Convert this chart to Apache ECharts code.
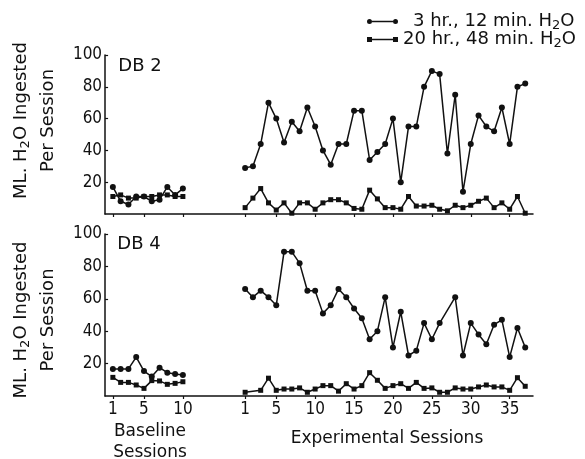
<!DOCTYPE html>
<html>
<head>
<meta charset="utf-8">
<script src="https://cdn.jsdelivr.net/npm/echarts@6/dist/echarts.min.js"></script>
<style>
  html, body { margin: 0; padding: 0; background: #fff; }
  #chart { width: 585px; height: 459px; }
</style>
</head>
<body>
<div id="chart"></div>
<script>
// sessions
const baselineSessions = [1, 2, 3, 4, 5, 6, 7, 8, 9, 10]
const expSessions = Array.from({ length: 37 }, (_, i) => i + 1)

// tick labels
const baselineTicks = [1, 5, 10]
const expTicks = [1, 5, 10, 15, 20, 25, 30, 35]
const yTicks = [20, 40, 60, 80, 100]

// DB 2
const db2Base3hr = [17, 8, 6, 11, 11, 8, 9, 17, 12, 16]
const db2Base20hr = [11, 12, 10, 10, 11, 11, 12, 12, 11, 11]
const db2Exp3hr = [29, 30, 44, 70, 60, 45, 58, 52, 67, 55, 40, 31, 44, 44, 65, 65, 34, 39, 44, 60,
  20, 55, 55, 80, 90, 88, 38, 75, 14, 44, 62, 55, 52, 67, 44, 80, 82]
const db2Exp20hr = [4, 10, 16, 7, 2.5, 7, 0.5, 7, 7, 3, 7, 9, 9, 7, 3.5, 3, 15, 9.5, 4, 4,
  3, 11, 5, 5, 5.5, 3, 2, 5.5, 4, 5.5, 8, 10, 4, 7, 3, 11, 0.5]

// DB 4
const db4Base3hr = [16.7, 16.7, 16.7, 24, 15.4, 12, 17.5, 14.4, 13.6, 13]
const db4Base20hr = [11.5, 8.4, 8.4, 6.8, 4.7, 9.5, 9.3, 7.2, 7.8, 8.8]
const db4Exp3hr = [66, 61, 65, 61, 56, 89, 89, 82, 65, 65, 51, 56, 66, 61, 54, 48, 35, 40, 61, 30,
  52, 25, 28, 45, 35, 45, null, 61, 25, 45, 38, 32, 44, 47, 24, 42, 30]
const db4Exp20hr = [2.3, null, 3.5, 11, 3.5, 4.3, 4.3, 5, 2.3, 4.3, 6.4, 6.4, 3, 7.6, 4.3, 6.4, 14.4, 9.7, 4.7, 6.4,
  7.6, 4.7, 8.4, 4.7, 5, 2.3, 2.3, 5, 4.3, 4.3, 5.6, 6.8, 5.6, 5.6, 3.5, 11.3, 6]

const NAME_A = '3 hr., 12 min. H2O'
const NAME_B = '20 hr., 48 min. H2O'

// experimental sessions sit after a gap on the same axis
const EXP_OFFSET = 17
const basePos = baselineSessions
const expPos = expSessions.map((s) => s + EXP_OFFSET)
const tickPos = baselineTicks.concat(expTicks.map((s) => s + EXP_OFFSET))

const FONT = 'DejaVu Sans'
const NUM_FONT = '"DejaVu Sans Condensed", "DejaVu Sans"'
const INK = '#111'

const chart = echarts.init(document.getElementById('chart'))

function line(name, pos, vals, symbol, idx) {
  return {
    type: 'line',
    name,
    xAxisIndex: idx,
    yAxisIndex: idx,
    data: pos.map((p, i) => [p, vals[i]]),
    symbol,
    symbolSize: symbol === 'circle' ? 6 : 5,
    connectNulls: true,
    clip: false,
    lineStyle: { color: INK, width: 1.5 },
    itemStyle: { color: INK },
  }
}

function xAxis(idx, showLabels) {
  return {
    type: 'value',
    gridIndex: idx,
    min: 0,
    max: 55,
    axisLine: { lineStyle: { color: INK, width: 1.5 } },
    axisTick: { customValues: tickPos, length: 3, lineStyle: { color: INK, width: 1.2 } },
    axisLabel: {
      show: showLabels,
      customValues: tickPos,
      formatter: (v) => (v > 10 ? v - EXP_OFFSET : v),
      fontFamily: NUM_FONT,
      fontSize: 17,
      color: INK,
      margin: 5,
    },
    splitLine: { show: false },
  }
}

function yAxis(idx, shift) {
  return {
    type: 'value',
    gridIndex: idx,
    min: 0,
    max: 100,
    interval: 20,
    name: 'ML. H{sub|2}O Ingested\nPer Session',
    nameLocation: 'middle',
    nameGap: 35,
    nameRotate: 90,
    nameTextStyle: {
      fontFamily: FONT,
      fontSize: 18,
      color: INK,
      lineHeight: 27,
      padding: shift,
      rich: {
        sub: { fontFamily: FONT, fontSize: 13, color: INK, lineHeight: 15, padding: [8, 0, 0, 0] },
      },
    },
    axisLine: { show: true, lineStyle: { color: INK, width: 1.5 } },
    axisTick: { customValues: yTicks, length: 3, inside: true, lineStyle: { color: INK, width: 1.2 } },
    axisLabel: { customValues: yTicks, fontFamily: NUM_FONT, fontSize: 17, color: INK, margin: 3 },
    splitLine: { show: false },
  }
}

const legendRich = {
  sub: { fontFamily: FONT, fontSize: 13, color: INK, lineHeight: 14, padding: [8, 0, 0, 0] },
}
const legendLabel = (n) => n.replace('H2O', 'H{sub|2}O')

function legend(name, top, icon, padLeft) {
  return {
    data: [name],
    left: 367,
    top,
    padding: 0,
    itemWidth: 31,
    itemHeight: 5,
    icon,
    formatter: legendLabel,
    textStyle: { fontFamily: FONT, fontSize: 18, color: INK, padding: [0, 0, 0, padLeft], rich: legendRich },
  }
}

const option = {
  animation: false,
  backgroundColor: '#fff',
  grid: [
    { left: 97, top: 55, width: 436, height: 159 },
    { left: 97, top: 234, width: 436, height: 162 },
  ],
  legend: [
    legend(NAME_A, 11,
      'path://M5,1.75H26V3.25H5Z M0,2.5A2.5,2.5,0,1,1,5,2.5A2.5,2.5,0,1,1,0,2.5Z M26,2.5A2.5,2.5,0,1,1,31,2.5A2.5,2.5,0,1,1,26,2.5Z', 10),
    legend(NAME_B, 29, 'path://M5,1.75H26V3.25H5Z M0,0H5V5H0Z M26,0H31V5H26Z', 0),
  ],
  xAxis: [xAxis(0, false), xAxis(1, true)],
  yAxis: [yAxis(0, [0, 0, 0, 28]), yAxis(1, [0, 10, 0, 0])],
  graphic: [
    { type: 'text', x: 140, y: 66, style: { text: 'DB 2', font: '18px "DejaVu Sans"', fill: INK, textAlign: 'center', textVerticalAlign: 'middle' } },
    { type: 'text', x: 139, y: 244, style: { text: 'DB 4', font: '18px "DejaVu Sans"', fill: INK, textAlign: 'center', textVerticalAlign: 'middle' } },
    { type: 'text', x: 150, y: 442, style: { text: 'Baseline\nSessions', font: '17px "DejaVu Sans"', lineHeight: 21, fill: INK, textAlign: 'center', textVerticalAlign: 'middle' } },
    { type: 'text', x: 387, y: 439, style: { text: 'Experimental Sessions', font: '17px "DejaVu Sans"', fill: INK, textAlign: 'center', textVerticalAlign: 'middle' } },
  ],
  series: [
    line(NAME_A, basePos, db2Base3hr, 'circle', 0),
    line(NAME_B, basePos, db2Base20hr, 'rect', 0),
    line(NAME_A, expPos, db2Exp3hr, 'circle', 0),
    line(NAME_B, expPos, db2Exp20hr, 'rect', 0),
    line(NAME_A, basePos, db4Base3hr, 'circle', 1),
    line(NAME_B, basePos, db4Base20hr, 'rect', 1),
    line(NAME_A, expPos, db4Exp3hr, 'circle', 1),
    line(NAME_B, expPos, db4Exp20hr, 'rect', 1),
  ],
}

chart.setOption(option)
</script>
</body>
</html>
